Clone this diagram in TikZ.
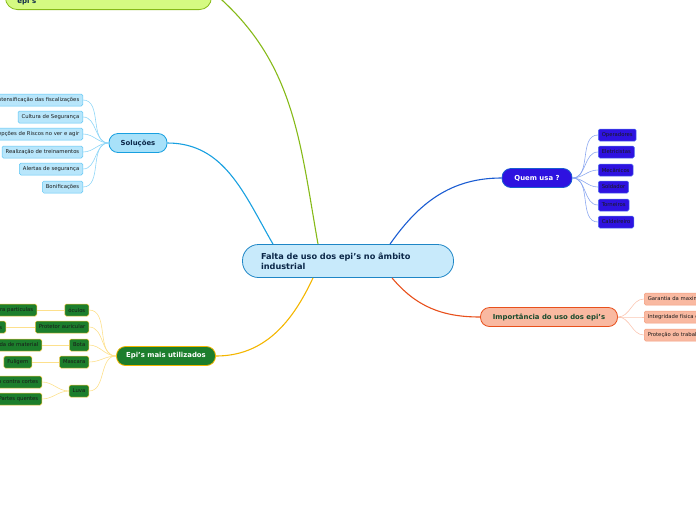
\documentclass[tikz,border=0pt]{standalone}
\usepackage{fontspec}
\setmainfont{DejaVu Sans}
\definecolor{falfill}{HTML}{C8EAFB}
\definecolor{falline}{HTML}{1E86C6}
\definecolor{faltext}{HTML}{0B2748}
\definecolor{limefill}{HTML}{D5FA82}
\definecolor{limeline}{HTML}{86BA18}
\definecolor{solfill}{HTML}{A8E1F9}
\definecolor{solline}{HTML}{18A0E0}
\definecolor{solleaf}{HTML}{B8E6FB}
\definecolor{solleafline}{HTML}{5EC6F4}
\definecolor{solthin}{HTML}{8FD6F7}
\definecolor{quemfill}{HTML}{2E12E0}
\definecolor{quemline}{HTML}{1A5CD2}
\definecolor{quemleafline}{HTML}{4E6EF0}
\definecolor{quemthin}{HTML}{8CA8F0}
\definecolor{impfill}{HTML}{F9B9A1}
\definecolor{impline}{HTML}{E8501C}
\definecolor{impleafline}{HTML}{F39C7C}
\definecolor{impthin}{HTML}{FBC6B2}
\definecolor{imptext}{HTML}{184A2C}
\definecolor{epifill}{HTML}{1C7E2C}
\definecolor{epiline}{HTML}{F4B600}
\definecolor{epileafline}{HTML}{EEC43A}
\definecolor{epithin}{HTML}{FDE08C}
\begin{document}
\begin{tikzpicture}[x=1pt, y=-1pt,
    main/.style = {draw, rounded corners=9, line width=0.8pt, minimum height=19,
      font=\fontsize{6.9}{8}\selectfont\bfseries},
    leaf/.style = {draw, rounded corners=1.5, line width=0.5pt, minimum height=12,
      inner xsep=3.5, inner ysep=1, font=\fontsize{5.3}{6}\selectfont, text=black!90}]
    \useasboundingbox (0,0) rectangle (696,520);
    \clip (0,0) rectangle (696,520);

    % centre
    \node[draw=falline, fill=falfill, rounded corners=16, line width=0.8pt,
      minimum width=211, minimum height=33, text width=174, inner xsep=0,
      align=left, text=faltext, font=\fontsize{8.2}{9.6}\selectfont\bfseries]
      (falta) at (348,261) {Falta de uso dos epi's no âmbito\\industrial};

    % top branch
    \node[main, draw=limeline, fill=limefill, rounded corners=12, minimum width=206,
      text height=28.5, text depth=4.5, inner ysep=2, text width=182, align=left,
      text=faltext, anchor=south west, font=\fontsize{7}{8.5}\selectfont\bfseries]
      (epis) at (5,10) {epi's};
    \path (epis.east) edge[limeline, line width=1.1pt, out=-40, in=100] ([xshift=-30]falta.north);

    % Soluções
    \node[main, draw=solline, fill=solfill, minimum width=58, text=faltext] (sol) at (138,143) {Soluções};
    \path (sol.east) edge[solline, line width=1.1pt, out=0, in=120] ([xshift=-75]falta.north);

    \node[leaf, draw=solleafline, fill=solleaf, anchor=east] (fisc) at (83,100) {Intensificação das fiscalizações};
    \node[leaf, draw=solleafline, fill=solleaf, anchor=east] (cult) at (83,117) {Cultura de Segurança};
    \node[leaf, draw=solleafline, fill=solleaf, anchor=east] (perc) at (83,134) {Percepções de Riscos no ver e agir};
    \node[leaf, draw=solleafline, fill=solleaf, anchor=east] (trei) at (83,152) {Realização de treinamentos};
    \node[leaf, draw=solleafline, fill=solleaf, anchor=east] (aler) at (83,169) {Alertas de segurança};
    \node[leaf, draw=solleafline, fill=solleaf, anchor=east] (boni) at (83,187) {Bonificações};
    \path[solthin, line width=0.6pt] (fisc.east) edge[out=0, in=180] (sol.west)
      (cult.east) edge[out=0, in=180] (sol.west)
      (perc.east) edge[out=0, in=180] (sol.west)
      (trei.east) edge[out=0, in=180] (sol.west)
      (aler.east) edge[out=0, in=180] (sol.west)
      (boni.east) edge[out=0, in=180] (sol.west);

    % Quem usa ?
    \node[main, draw=quemline, fill=quemfill, minimum width=70, text=white] (quem) at (537,178) {Quem usa ?};
    \path ([xshift=42]falta.north) edge[quemline, line width=1.1pt, out=55, in=180] (quem.west);

    \node[leaf, draw=quemleafline, fill=quemfill, anchor=west] (oper) at (598,135) {Operadores};
    \node[leaf, draw=quemleafline, fill=quemfill, anchor=west] (elet) at (598,152) {Eletricistas};
    \node[leaf, draw=quemleafline, fill=quemfill, anchor=west] (meca) at (598,170) {Mecânicos};
    \node[leaf, draw=quemleafline, fill=quemfill, anchor=west] (sold) at (598,187) {Soldador};
    \node[leaf, draw=quemleafline, fill=quemfill, anchor=west] (torn) at (598,205) {Torneiros};
    \node[leaf, draw=quemleafline, fill=quemfill, anchor=west] (cald) at (598,222) {Caldeireiro};
    \path[quemthin, line width=0.6pt] (quem.east) edge[out=0, in=180] (oper.west)
      (quem.east) edge[out=0, in=180] (elet.west)
      (quem.east) edge[out=0, in=180] (meca.west)
      (quem.east) edge[out=0, in=180] (sold.west)
      (quem.east) edge[out=0, in=180] (torn.west)
      (quem.east) edge[out=0, in=180] (cald.west);

    % Importância
    \node[main, draw=impline, fill=impfill, minimum width=137, text=imptext] (impo) at (549,317) {Importância do uso dos epi's};
    \path ([xshift=44]falta.south) edge[impline, line width=1.1pt, out=-50, in=180] (impo.west);

    \node[leaf, draw=impleafline, fill=impfill, anchor=west] (gara) at (644,299) {Garantia da maxima segurança};
    \node[leaf, draw=impleafline, fill=impfill, anchor=west] (inte) at (644,317) {Integridade física do trabalhador};
    \node[leaf, draw=impleafline, fill=impfill, anchor=west] (prot) at (644,335) {Proteção do trabalhador};
    \path[impthin, line width=0.6pt] (impo.east) edge[out=0, in=180] (gara.west)
      (impo.east) edge[out=0, in=180] (inte.west)
      (impo.east) edge[out=0, in=180] (prot.west);

    % Epi's mais utilizados
    \node[main, draw=epiline, fill=epifill, minimum width=99, text=white] (util) at (166,356) {Epi's mais utilizados};
    \path ([xshift=-35]falta.south) edge[epiline, line width=1.1pt, out=-115, in=0] (util.east);

    \node[leaf, draw=epileafline, fill=epifill, anchor=east] (ocul) at (89,310) {óculos};
    \node[leaf, draw=epileafline, fill=epifill, anchor=east] (auri) at (89,327) {Protetor auricular};
    \node[leaf, draw=epileafline, fill=epifill, anchor=east] (bota) at (89,345) {Bota};
    \node[leaf, draw=epileafline, fill=epifill, anchor=east] (masc) at (89,362) {Mascara};
    \node[leaf, draw=epileafline, fill=epifill, anchor=east] (luva) at (89,391) {Luva};
    \path[epithin, line width=0.6pt] (ocul.east) edge[out=0, in=180] (util.west)
      (auri.east) edge[out=0, in=180] (util.west)
      (bota.east) edge[out=0, in=180] (util.west)
      (masc.east) edge[out=0, in=180] (util.west)
      (luva.east) edge[out=0, in=180] (util.west);

    \node[leaf, draw=epileafline, fill=epifill, anchor=east] (part) at (37,310) {Proteção contra particulas};
    \node[leaf, draw=epileafline, fill=epifill, anchor=east] (ruid) at (6,327) {Ruídos};
    \node[leaf, draw=epileafline, fill=epifill, anchor=east] (qued) at (42,345) {Queda de material};
    \node[leaf, draw=epileafline, fill=epifill, anchor=east] (fuli) at (32,362) {Fuligem};
    \node[leaf, draw=epileafline, fill=epifill, anchor=east] (cort) at (42,382) {Proteção contra cortes};
    \node[leaf, draw=epileafline, fill=epifill, anchor=east] (quen) at (42,399) {Partes quentes};
    \path[epithin, line width=0.6pt] (part.east) edge (ocul.west)
      (ruid.east) edge (auri.west)
      (qued.east) edge (bota.west)
      (fuli.east) edge (masc.west)
      (cort.east) edge[out=0, in=180] (luva.west)
      (quen.east) edge[out=0, in=180] (luva.west);
\end{tikzpicture}
\end{document}
